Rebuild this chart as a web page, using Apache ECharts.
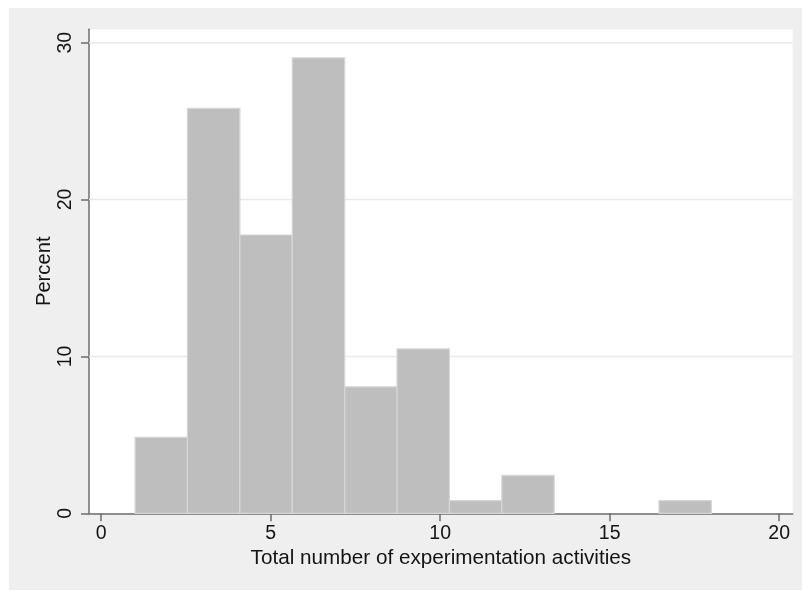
<!DOCTYPE html>
<html>
<head>
<meta charset="utf-8">
<script src="https://cdn.jsdelivr.net/npm/echarts@6/dist/echarts.min.js"></script>
<style>
  html, body { margin: 0; padding: 0; background: #ffffff; }
  #chart { position: absolute; left: 9px; top: 8px; width: 793px; height: 582px; background: #efefef; }
</style>
</head>
<body>
<div id="chart"></div>
<script>
// Histogram bin edges (Total number of experimentation activities)
const binStarts = [1, 2.545, 4.091, 5.636, 7.182, 8.727, 10.273, 11.818, 13.364, 14.909, 16.455];
const binEnds   = [2.545, 4.091, 5.636, 7.182, 8.727, 10.273, 11.818, 13.364, 14.909, 16.455, 18];
// Percent of observations in each bin
const percents  = [4.84, 25.81, 17.74, 29.03, 8.06, 10.48, 0.81, 2.42, 0, 0, 0.81];
const xTicks = [0, 5, 10, 15, 20];
const yTicks = [0, 10, 20, 30];
const xTitle = 'Total number of experimentation activities';
const yTitle = 'Percent';

const X_MIN = -0.36, X_MAX = 20.4;
const data = binStarts.map((s, i) => [s, binEnds[i], percents[i]]);
const gridData = yTicks.filter(v => v > 0).map(v => [v]);

const chart = echarts.init(document.getElementById('chart'), null, { renderer: 'canvas' });
const FONT = 'Liberation Sans, Arial, sans-serif';
const axisColor = '#6e6e6e';
const textColor = '#141414';

chart.setOption({
  backgroundColor: '#efefef',
  animation: false,
  grid: {
    left: 80, right: 9.3, top: 21.3, bottom: 76.7,
    show: true, backgroundColor: '#ffffff', borderWidth: 0
  },
  xAxis: {
    type: 'value',
    min: X_MIN, max: X_MAX,
    name: xTitle, nameLocation: 'middle', nameGap: 34, nameMoveOverlap: false,
    nameTextStyle: { fontFamily: FONT, fontSize: 20.7, color: textColor },
    axisLine: { show: true, onZero: false, lineStyle: { color: axisColor, width: 1.5 } },
    axisTick: { show: true, length: 8, lineStyle: { color: axisColor, width: 1.5 },
      customValues: xTicks },
    axisLabel: { fontFamily: FONT, fontSize: 19.5, color: textColor, margin: 10,
      customValues: xTicks, showMinLabel: true, showMaxLabel: true },
    splitLine: { show: false }
  },
  yAxis: {
    type: 'value',
    min: 0, max: 30.85,
    name: yTitle, nameLocation: 'middle', nameGap: 35, nameMoveOverlap: false,
    nameTextStyle: { fontFamily: FONT, fontSize: 20.2, color: textColor },
    axisLine: { show: true, onZero: false, lineStyle: { color: axisColor, width: 1.5 } },
    axisTick: { show: true, length: 8, lineStyle: { color: axisColor, width: 1.5 },
      customValues: yTicks },
    axisLabel: { fontFamily: FONT, fontSize: 19.5, color: textColor, margin: 13, rotate: 90,
      customValues: yTicks },
    splitLine: { show: false }
  },
  series: [
    {
      // horizontal grid lines behind the bars
      type: 'custom',
      data: gridData,
      encode: { y: 0 },
      z: 1,
      silent: true,
      renderItem: function (params, api) {
        const a = api.coord([X_MIN, api.value(0)]);
        const b = api.coord([X_MAX, api.value(0)]);
        return {
          type: 'line',
          shape: { x1: a[0], y1: a[1], x2: b[0], y2: b[1] },
          style: { stroke: '#eaeaea', lineWidth: 1.5 }
        };
      }
    },
    {
      type: 'custom',
      data: data,
      encode: { x: [0, 1], y: 2 },
      z: 3,
      renderItem: function (params, api) {
        if (!(api.value(2) > 0)) return null;
        const p0 = api.coord([api.value(0), 0]);
        const p1 = api.coord([api.value(1), api.value(2)]);
        return {
          type: 'rect',
          shape: { x: p0[0], y: p1[1], width: p1[0] - p0[0], height: p0[1] - p1[1] },
          style: { fill: '#bebebe', stroke: '#d6d6d6', lineWidth: 1.2 }
        };
      }
    }
  ]
});
</script>
</body>
</html>
